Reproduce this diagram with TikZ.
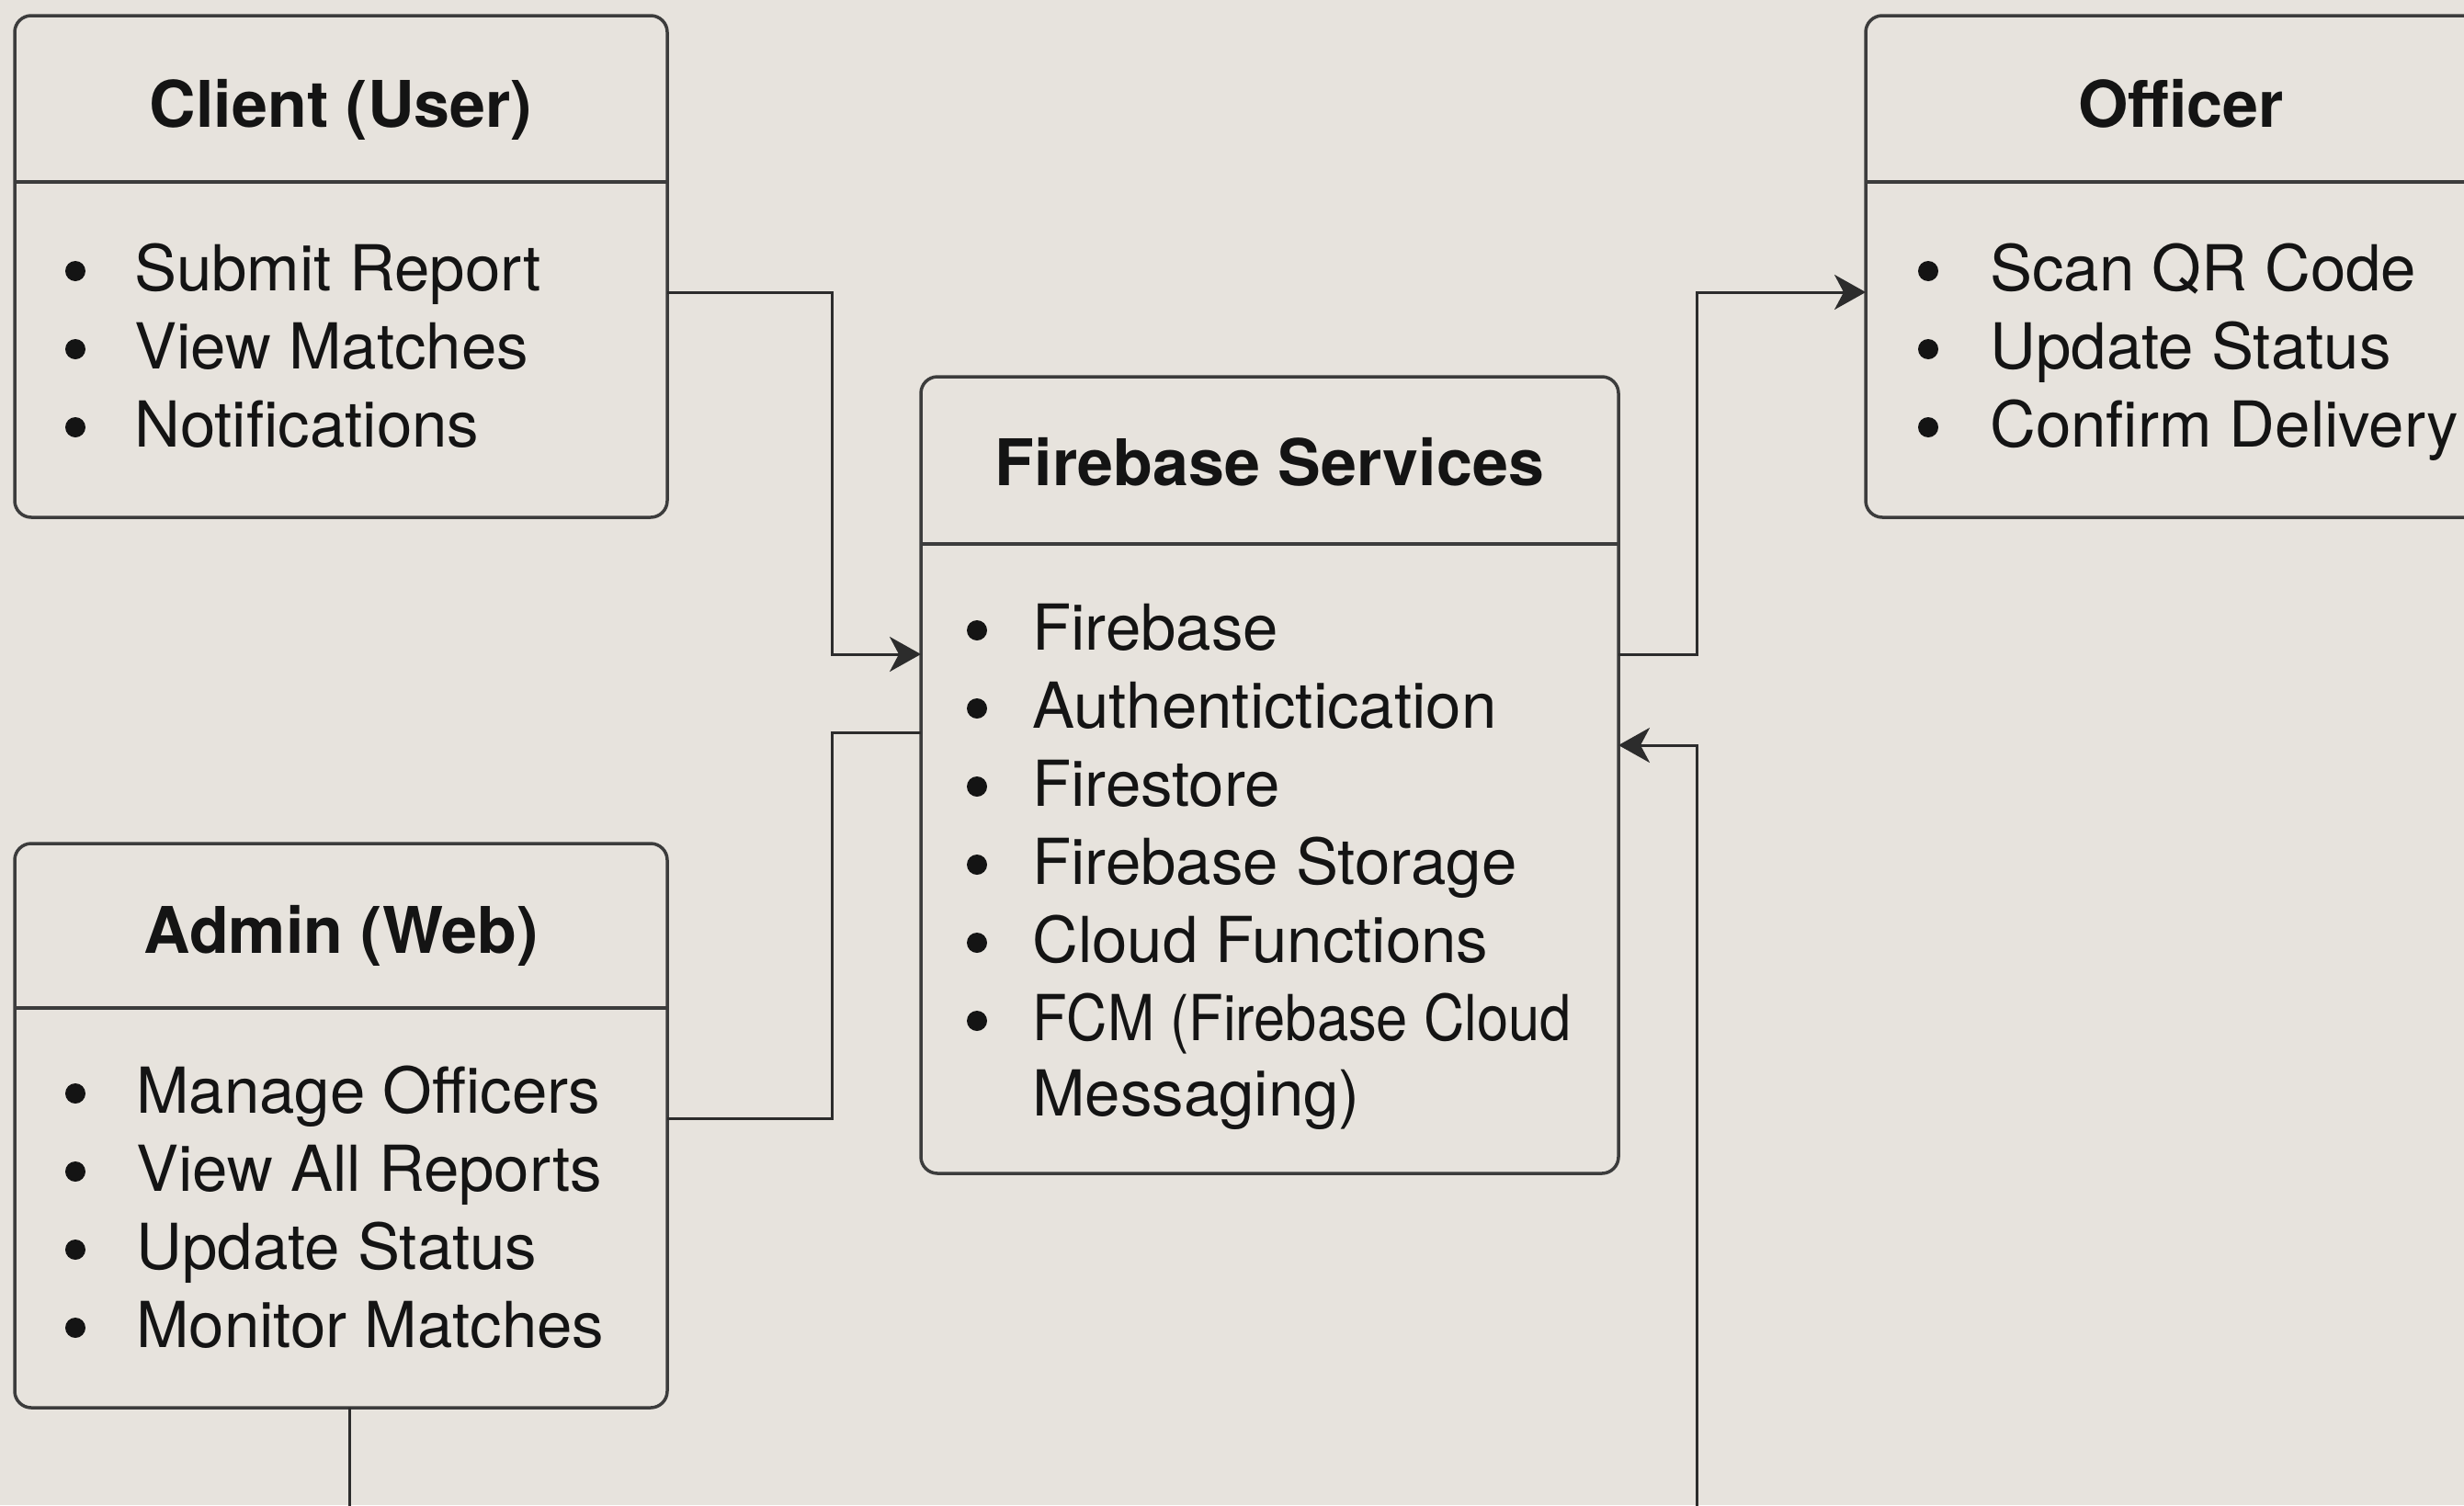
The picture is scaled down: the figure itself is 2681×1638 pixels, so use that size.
\documentclass[tikz,border=0pt]{standalone}
\usepackage{fontspec}
\setmainfont{TeX Gyre Heros}
\usetikzlibrary{arrows.meta}
\definecolor{bg}{HTML}{E7E3DD}
\definecolor{edge}{HTML}{3C3C3C}
\definecolor{ink}{HTML}{141414}
\begin{document}
\begin{tikzpicture}[x=1pt,y=-1pt,
  box/.style={draw=edge, line width=3.5pt, rounded corners=18pt, fill=bg, inner sep=0pt, outer sep=0pt},
  divider/.style={draw=edge, line width=3.5pt},
  conn/.style={draw=ink!90, line width=3pt},
  tip/.style={-{Stealth[length=34pt,width=38pt,inset=10pt]}},
  title/.style={font=\fontsize{70pt}{84pt}\selectfont\bfseries, text=ink, anchor=base, inner sep=0pt},
  item/.style={font=\fontsize{69pt}{85pt}\selectfont, text=ink, anchor=base west, inner sep=0pt}]
\useasboundingbox (0,0) rectangle (2681,1638);
\clip (0,0) rectangle (2681,1638);
\fill[bg] (0,0) rectangle (2681,1638);

% boxes
\node[box, minimum width=710pt, minimum height=546pt] (client) at (371,290) {};
\node[box, minimum width=710pt, minimum height=614pt] (admin) at (371,1225) {};
\node[box, minimum width=759pt, minimum height=867pt] (fb) at (1381.5,843.5) {};
\node[box, minimum width=686pt, minimum height=546pt] (officer) at (2373,290) {};

% dividers
\draw[divider] (client.west |- 0,198) -- (client.east |- 0,198);
\draw[divider] (admin.west |- 0,1097) -- (admin.east |- 0,1097);
\draw[divider] (fb.west |- 0,592) -- (fb.east |- 0,592);
\draw[divider] (officer.west |- 0,198) -- (officer.east |- 0,198);

% titles
\node[title] (clientT) at (371,138) {Client (User)};
\node[title] (adminT) at (371,1037) {Admin (Web)};
\node[title] (fbT) at (1381.5,528) {Firebase Services};
\node[title] (officerT) at (2373,138) {Officer};

% client items
\foreach \t [count=\i] in {Submit Report, View Matches, Notifications} {
  \node[item] (cl\i) at (146,{316+85*(\i-1)}) {\t};
  \fill[ink] (82,{316+85*(\i-1)-21}) circle (11pt);
}
% admin items
\foreach \t [count=\i] in {Manage Officers, View All Reports, Update Status, Monitor Matches} {
  \node[item] (ad\i) at (148,{1211+85*(\i-1)}) {\t};
  \fill[ink] (82,{1211+85*(\i-1)-21}) circle (11pt);
}
% officer items
\foreach \t [count=\i] in {Scan QR Code, Update Status, Confirm Delivery} {
  \node[item] (of\i) at (2165,{316+85*(\i-1)}) {\t};
  \fill[ink] (2098,{316+85*(\i-1)-21}) circle (11pt);
}
% firebase items
\foreach \t [count=\i] in {Firebase, Authentictication, Firestore, Firebase Storage, Cloud Functions, {\scalebox{0.89}[1]{FCM (Firebase Cloud}}} {
  \node[item] (fb\i) at (1123,{707+85*(\i-1)}) {\t};
  \fill[ink] (1063,{707+85*(\i-1)-21}) circle (11pt);
}
\node[item] (fb7) at (1123,1214) {Messaging)};

% connectors
\coordinate (botA) at (380,1640);
\coordinate (botB) at (1846,1640);
\draw[conn,tip] (client.east |- 0,318) -| (905,712) -- (fb.west |- 0,712);
\draw[conn] (admin.east |- 0,1217) -| (905,797) -- (fb.west |- 0,797);
\draw[conn,tip] (fb.east |- 0,712) -| (1846,318) -- (officer.west |- 0,318);
\draw[conn,tip] (botB) |- (fb.east |- 0,811);
\draw[conn] (admin.south -| botA) -- (botA);
\end{tikzpicture}
\end{document}
